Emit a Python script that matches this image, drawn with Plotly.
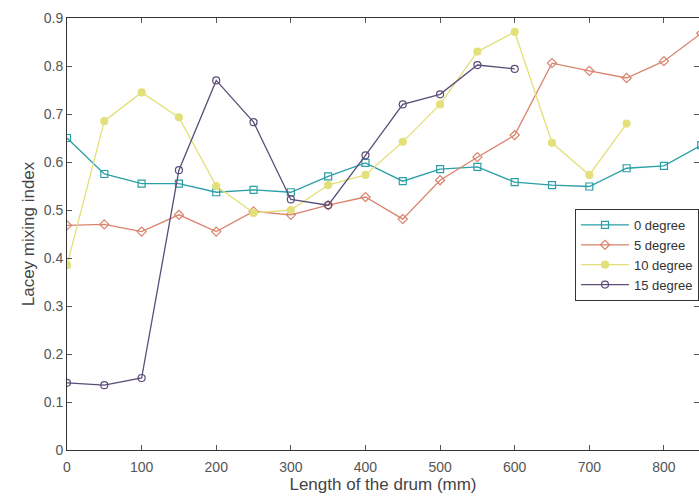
import plotly.graph_objects as go

x_all = [0, 50, 100, 150, 200, 250, 300, 350, 400, 450, 500, 550, 600, 650, 700, 750, 800, 850]
deg0 = [0.65, 0.575, 0.555, 0.555, 0.537, 0.542, 0.537, 0.57, 0.598, 0.56, 0.585, 0.59, 0.558, 0.552, 0.549, 0.587, 0.592, 0.635]
deg5 = [0.468, 0.47, 0.455, 0.49, 0.455, 0.497, 0.49, 0.51, 0.527, 0.481, 0.562, 0.61, 0.656, 0.806, 0.79, 0.775, 0.81, 0.868]
x10 = [0, 50, 100, 150, 200, 250, 300, 350, 400, 450, 500, 550, 600, 650, 700, 750]
deg10 = [0.385, 0.685, 0.745, 0.693, 0.55, 0.494, 0.5, 0.552, 0.573, 0.642, 0.72, 0.83, 0.871, 0.64, 0.573, 0.68]
x15 = [0, 50, 100, 150, 200, 250, 300, 350, 400, 450, 500, 550, 600]
deg15 = [0.14, 0.135, 0.15, 0.583, 0.77, 0.683, 0.522, 0.51, 0.614, 0.72, 0.741, 0.802, 0.794]

series = [
    ("0 degree", x_all, deg0, "#2a9fa6", "square-open"),
    ("5 degree", x_all, deg5, "#d9836c", "diamond-open"),
    ("10 degree", x10, deg10, "#e3e07a", "circle"),
    ("15 degree", x15, deg15, "#5b4d78", "circle-open"),
]

fig = go.Figure()
for name, xs, ys, col, sym in series:
    fig.add_trace(go.Scatter(
        x=xs, y=ys, name=name, mode="lines+markers",
        line=dict(color=col, width=1.3),
        marker=dict(symbol=sym, size=7, color=col, line=dict(color=col, width=1.2)),
    ))

fig.update_layout(
    width=699, height=502,
    margin=dict(l=67, r=0, t=18, b=52),
    plot_bgcolor="white", paper_bgcolor="white",
    font=dict(family="Liberation Sans, Arial, sans-serif", size=14, color="#555"),
    showlegend=True,
    legend=dict(
        x=1.0, y=0.558, xanchor="right", yanchor="top",
        bgcolor="white", bordercolor="#333", borderwidth=1,
        font=dict(size=13, color="#333"),
        tracegroupgap=0, itemwidth=48,
    ),
    xaxis=dict(
        range=[0, 847], tickmode="array", tickvals=[0, 100, 200, 300, 400, 500, 600, 700, 800],
        ticks="inside", ticklen=5, tickcolor="#555", showgrid=False, zeroline=False,
        showline=True, linecolor="#333", linewidth=1, mirror="ticks",
        tickfont=dict(size=14, color="#555"), ticklabelstandoff=4,
        title=dict(text="Length of the drum (mm)", font=dict(size=17, color="#444"), standoff=4),
    ),
    yaxis=dict(
        range=[0, 0.9], dtick=0.1, tick0=0,
        ticks="inside", ticklen=5, tickcolor="#555", showgrid=False, zeroline=False,
        showline=True, linecolor="#333", linewidth=1, mirror="ticks",
        tickfont=dict(size=14, color="#555"),
        title=dict(text="Lacey mixing index", font=dict(size=17, color="#444"), standoff=4),
    ),
)

fig.write_html("out.html")
